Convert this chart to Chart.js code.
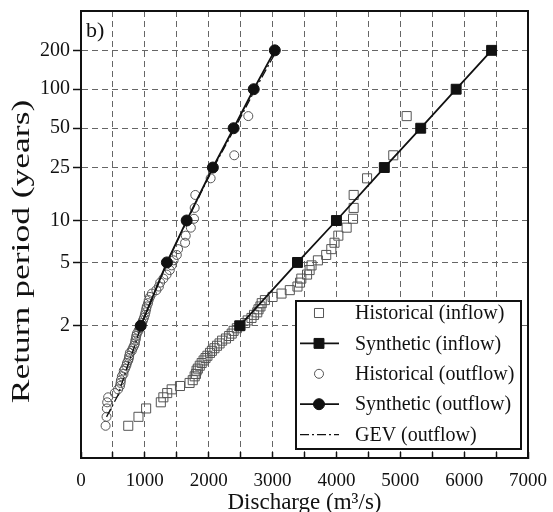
<!DOCTYPE html>
<html>
<head>
<meta charset="utf-8">
<script src="https://cdn.jsdelivr.net/npm/chart.js@4.4.0/dist/chart.umd.min.js"></script>
<style>
  html, body { margin: 0; padding: 0; background: #fff; }
  #wrap { width: 553px; height: 512px; }
</style>
</head>
<body>
<div id="wrap"><canvas id="freqChart" width="553" height="512"></canvas></div>
<script>
// return periods (years) of the historical points, largest flood first
const histPeriods = [62, 31, 20.7, 15.5, 12.4, 10.3, 8.86, 7.75, 6.89, 6.2,
  5.64, 5.17, 4.77, 4.43, 4.13, 3.88, 3.65, 3.44, 3.26, 3.1,
  2.95, 2.82, 2.7, 2.58, 2.48, 2.38, 2.3, 2.21, 2.14, 2.07,
  2.0, 1.94, 1.88, 1.82, 1.77, 1.72, 1.68, 1.63, 1.59, 1.55,
  1.51, 1.48, 1.44, 1.41, 1.38, 1.35, 1.32, 1.29, 1.27, 1.24,
  1.22, 1.19, 1.17, 1.15, 1.13, 1.11, 1.09, 1.07, 1.05, 1.03, 1.016];

// discharge (m3/s) of historical inflow / outflow, same order as histPeriods
const histInflow = [5100, 4890, 4480, 4270, 4270, 4260, 4160, 4030, 3970, 3920,
  3840, 3710, 3610, 3580, 3540, 3450, 3430, 3390, 3270, 3140,
  3000, 2880, 2830, 2810, 2780, 2760, 2710, 2670, 2610, 2570,
  2500, 2440, 2390, 2360, 2320, 2270, 2210, 2170, 2130, 2090,
  2050, 2020, 1980, 1950, 1920, 1890, 1860, 1830, 1810, 1800,
  1780, 1750, 1700, 1550, 1420, 1350, 1290, 1250, 1020, 900, 740];
const histOutflow = [2620, 2400, 2030, 1790, 1780, 1770, 1720, 1640, 1630, 1520,
  1500, 1450, 1420, 1390, 1340, 1290, 1240, 1220, 1180, 1110,
  1080, 1060, 1050, 1030, 1020, 1010, 1000, 985, 970, 955,
  940, 920, 900, 875, 865, 860, 850, 845, 830, 810,
  795, 765, 755, 750, 740, 720, 710, 690, 670, 665,
  640, 625, 620, 610, 580, 530, 425, 410, 405, 400, 385];

// synthetic series, one value per return period
const synthPeriods = [2, 5, 10, 25, 50, 100, 200];
const synthInflow = [2485, 3390, 4000, 4750, 5320, 5875, 6430];
const synthOutflow = [935, 1345, 1655, 2065, 2390, 2705, 3035];

// fitted GEV curve for the outflow
const gevPeriods = [1.03, 1.1, 1.3, 1.6, 2, 5, 10, 25, 50, 100, 200];
const gevOutflow = [400, 580, 720, 845, 940, 1350, 1660, 2075, 2410, 2730, 3065];

// y axis tick labels (return period, years)
const periodTicks = [2, 5, 10, 25, 50, 100, 200];

// Gumbel reduced variate, used as the position on the y axis
function gumbel(T) {
  return -Math.log(-Math.log(1 - 1 / T));
}

function toPoints(xs, periods) {
  return xs.map((x, i) => ({ x: x, y: gumbel(periods[i]) }));
}

const serif = '"Liberation Serif", "Times New Roman", serif';
Chart.defaults.font.family = serif;
Chart.defaults.color = '#111';

// solid frame round the plot area, the "b)" tag and the y title
const framePlugin = {
  id: 'frame',
  afterDraw(chart) {
    const { ctx, chartArea: a } = chart;
    ctx.save();
    ctx.strokeStyle = '#111';
    ctx.lineWidth = 2;
    ctx.strokeRect(a.left, a.top, a.right - a.left, a.bottom - a.top);
    ctx.fillStyle = '#111';
    ctx.font = '22px ' + serif;
    ctx.textBaseline = 'middle';
    ctx.fillText('b)', a.left + 5, a.top + 20);

    // y title, drawn long like in the original figure
    ctx.translate(22, (a.top + a.bottom) / 2 + 17);
    ctx.rotate(-Math.PI / 2);
    ctx.scale(1.42, 1);
    ctx.font = '25px ' + serif;
    ctx.textAlign = 'center';
    ctx.fillText('Return period (years)', 0, 0);
    ctx.restore();
  }
};

// boxed legend in the lower right corner of the plot
const boxLegend = {
  id: 'boxLegend',
  afterDraw(chart) {
    const { ctx, chartArea: a } = chart;
    const right = a.right - 7, bottom = a.bottom - 9;
    const w = 225, h = 148;
    const left = right - w, top = bottom - h;
    ctx.save();
    ctx.fillStyle = '#fff';
    ctx.fillRect(left, top, w, h);
    ctx.strokeStyle = '#111';
    ctx.lineWidth = 2;
    ctx.strokeRect(left, top, w, h);

    chart.data.datasets.forEach((ds, i) => {
      const cy = top + 12 + i * 30.4;
      const cx = left + 23;
      ctx.save();
      if (ds.showLine) {
        ctx.strokeStyle = ds.borderColor;
        ctx.lineWidth = ds.borderWidth;
        ctx.setLineDash(ds.borderDash || []);
        ctx.beginPath();
        ctx.moveTo(left + 4, cy);
        ctx.lineTo(left + 43, cy);
        ctx.stroke();
        ctx.setLineDash([]);
      }
      if (ds.pointRadius > 0) {
        ctx.fillStyle = ds.pointBackgroundColor === 'rgba(0,0,0,0)' ? '#fff' : ds.pointBackgroundColor;
        ctx.strokeStyle = ds.pointBorderColor;
        ctx.lineWidth = ds.pointBorderWidth;
        ctx.beginPath();
        if (ds.pointStyle === 'rect') {
          const s = Math.SQRT1_2 * ds.pointRadius;
          ctx.rect(cx - s, cy - s, 2 * s, 2 * s);
        } else {
          ctx.arc(cx, cy, ds.pointRadius, 0, Math.PI * 2);
        }
        ctx.fill();
        ctx.stroke();
      }
      ctx.restore();
      ctx.fillStyle = '#111';
      ctx.font = '20px ' + serif;
      ctx.textBaseline = 'middle';
      ctx.fillText(ds.label, left + 59, cy + 1);
    });
    ctx.restore();
  }
};

const ctx = document.getElementById('freqChart').getContext('2d');
const chart = new Chart(ctx, {
  type: 'scatter',
  data: {
    datasets: [
      {
        label: 'Historical (inflow)',
        data: toPoints(histInflow, histPeriods),
        showLine: false,
        pointStyle: 'rect',
        pointRadius: 6.4,
        pointBorderWidth: 1,
        pointBorderColor: '#555',
        pointBackgroundColor: 'rgba(0,0,0,0)',
        order: 4
      },
      {
        label: 'Synthetic (inflow)',
        data: toPoints(synthInflow, synthPeriods),
        showLine: true,
        borderColor: '#111',
        borderWidth: 1.8,
        pointStyle: 'rect',
        pointRadius: 7,
        pointBorderWidth: 1,
        pointBorderColor: '#111',
        pointBackgroundColor: '#111',
        order: 1
      },
      {
        label: 'Historical (outflow)',
        data: toPoints(histOutflow, histPeriods),
        showLine: false,
        pointStyle: 'circle',
        pointRadius: 4.5,
        pointBorderWidth: 1,
        pointBorderColor: '#555',
        pointBackgroundColor: 'rgba(0,0,0,0)',
        order: 5
      },
      {
        label: 'Synthetic (outflow)',
        data: toPoints(synthOutflow, synthPeriods),
        showLine: true,
        borderColor: '#111',
        borderWidth: 1.8,
        pointStyle: 'circle',
        pointRadius: 5.5,
        pointBorderWidth: 1,
        pointBorderColor: '#111',
        pointBackgroundColor: '#111',
        order: 2
      },
      {
        label: 'GEV (outflow)',
        data: toPoints(gevOutflow, gevPeriods),
        showLine: true,
        borderColor: '#111',
        borderWidth: 1.3,
        borderDash: [9, 3, 2, 3],
        pointRadius: 0,
        order: 3
      }
    ]
  },
  options: {
    responsive: false,
    animation: false,
    layout: { padding: { top: 11, right: 25, left: 0, bottom: 0 } },
    plugins: {
      legend: { display: false },
      tooltip: { enabled: false }
    },
    scales: {
      x: {
        type: 'linear',
        min: 0,
        max: 7000,
        afterFit: (scale) => {
          scale.height = 54;
          scale.paddingLeft = 0;
          scale.paddingRight = 0;
        },
        ticks: {
          stepSize: 500,
          autoSkip: false,
          maxRotation: 0,
          padding: 18,
          color: '#111',
          font: { size: 19 },
          callback: (v) => (v % 1000 === 0 ? v : '')
        },
        grid: {
          color: '#666',
          lineWidth: 1,
          tickLength: -6,
          tickColor: '#111',
          tickWidth: 1.5
        },
        border: { display: true, color: '#111', width: 2, dash: [6, 4] },
        title: {
          display: true,
          text: 'Discharge (m³/s)',
          color: '#111',
          font: { size: 23, lineHeight: 0.8 },
          padding: 0
        }
      },
      y: {
        type: 'linear',
        min: -2,
        max: 6,
        afterFit: (scale) => {
          scale.width = 81;
          scale.paddingTop = 0;
          scale.paddingBottom = 0;
        },
        afterBuildTicks: (scale) => {
          scale.ticks = periodTicks.map((t) => ({ value: gumbel(t) }));
        },
        ticks: {
          autoSkip: false,
          padding: 3,
          color: '#111',
          font: { size: 20 },
          callback: (v, i) => periodTicks[i]
        },
        grid: {
          color: '#666',
          lineWidth: 1,
          tickLength: 8,
          tickColor: '#111',
          tickWidth: 1.5
        },
        border: { display: true, color: '#111', width: 2, dash: [6, 4] },
        title: { display: false }
      }
    }
  },
  plugins: [framePlugin, boxLegend]
});
</script>
</body>
</html>
